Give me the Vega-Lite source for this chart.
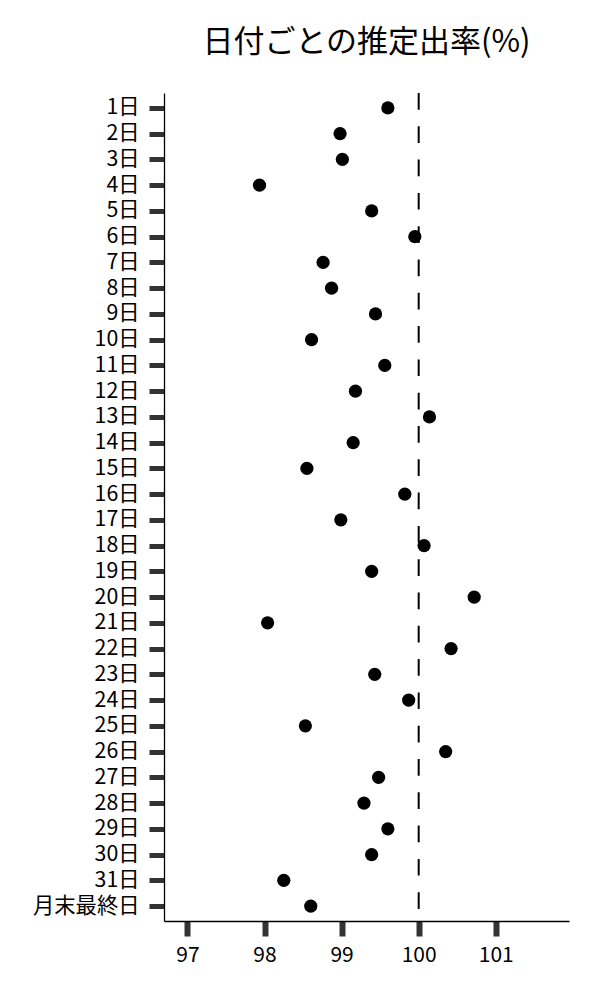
{
  "$schema": "https://vega.github.io/schema/vega-lite/v6.json",
  "width": 405,
  "height": 828,
  "autosize": "none",
  "padding": {"left": 164, "top": 93, "right": 31, "bottom": 79},
  "background": "white",
  "config": {
    "font": "Noto Sans CJK JP",
    "view": {"stroke": null},
    "axis": {"grid": false}
  },
  "title": {
    "text": "日付ごとの推定出率(%)",
    "fontSize": 31,
    "fontWeight": "normal",
    "color": "#000000",
    "anchor": "middle",
    "offset": 33,
    "font": "Noto Sans CJK JP"
  },
  "data": {
    "values": [
      {"day": "1日", "rate": 99.60},
      {"day": "2日", "rate": 98.98},
      {"day": "3日", "rate": 99.01},
      {"day": "4日", "rate": 97.935},
      {"day": "5日", "rate": 99.39},
      {"day": "6日", "rate": 99.95},
      {"day": "7日", "rate": 98.76},
      {"day": "8日", "rate": 98.87},
      {"day": "9日", "rate": 99.44},
      {"day": "10日", "rate": 98.61},
      {"day": "11日", "rate": 99.56},
      {"day": "12日", "rate": 99.18},
      {"day": "13日", "rate": 100.14},
      {"day": "14日", "rate": 99.15},
      {"day": "15日", "rate": 98.55},
      {"day": "16日", "rate": 99.82},
      {"day": "17日", "rate": 98.99},
      {"day": "18日", "rate": 100.07},
      {"day": "19日", "rate": 99.39},
      {"day": "20日", "rate": 100.72},
      {"day": "21日", "rate": 98.04},
      {"day": "22日", "rate": 100.42},
      {"day": "23日", "rate": 99.43},
      {"day": "24日", "rate": 99.87},
      {"day": "25日", "rate": 98.53},
      {"day": "26日", "rate": 100.35},
      {"day": "27日", "rate": 99.48},
      {"day": "28日", "rate": 99.29},
      {"day": "29日", "rate": 99.60},
      {"day": "30日", "rate": 99.39},
      {"day": "31日", "rate": 98.25},
      {"day": "月末最終日", "rate": 98.60}
    ]
  },
  "layer": [
    {
      "mark": {"type": "point", "filled": true, "color": "#000000", "opacity": 1, "size": 175},
      "encoding": {
        "x": {
          "field": "rate",
          "type": "quantitative",
          "scale": {"domain": [96.696, 101.95], "nice": false, "zero": false},
          "axis": {
            "title": null,
            "values": [97, 98, 99, 100, 101],
            "format": "d",
            "domainColor": "#000000",
            "domainWidth": 1.3,
            "tickColor": "#333333",
            "tickWidth": 6,
            "tickSize": 15,
            "labelFontSize": 21,
            "labelColor": "#000000",
            "labelPadding": 8,
            "labelFont": "Noto Sans CJK JP"
          }
        },
        "y": {
          "field": "day",
          "type": "ordinal",
          "sort": null,
          "scale": {"type": "point", "padding": 0.58},
          "axis": {
            "title": null,
            "domainColor": "#000000",
            "domainWidth": 1.3,
            "tickColor": "#333333",
            "tickWidth": 5,
            "tickSize": 15,
            "labelFontSize": 21.3,
            "labelColor": "#000000",
            "labelPadding": 10,
            "labelFont": "Noto Sans CJK JP"
          }
        }
      }
    },
    {
      "data": {"values": [{"ref": 100}]},
      "mark": {"type": "rule", "color": "#000000", "strokeWidth": 2, "strokeDash": [16.7, 16.6]},
      "encoding": {
        "x": {"field": "ref", "type": "quantitative"}
      }
    }
  ]
}
